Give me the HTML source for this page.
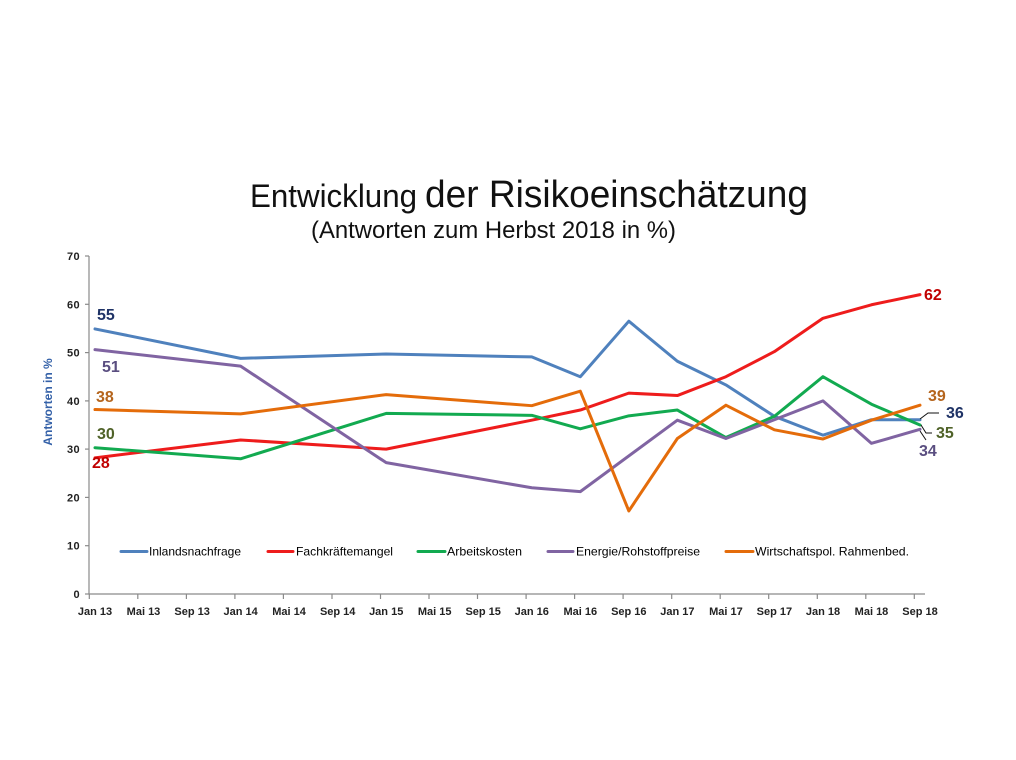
<!DOCTYPE html>
<html>
<head>
<meta charset="utf-8">
<style>
  html, body { margin:0; padding:0; background:#fff; }
  body { width:1016px; height:760px; overflow:hidden; }
  svg { display:block; }
  text { font-family: "Liberation Sans", Arial, sans-serif; }
</style>
</head>
<body>
<svg width="1016" height="760" viewBox="0 0 1016 760" xmlns="http://www.w3.org/2000/svg">
  <rect width="1016" height="760" fill="#fff"/>

  <!-- Title -->
  <text x="250" y="207" font-size="32" fill="#111" textLength="167" lengthAdjust="spacingAndGlyphs">Entwicklung</text>
  <text x="425" y="207" font-size="38" fill="#111" textLength="383" lengthAdjust="spacingAndGlyphs">der Risikoeinschätzung</text>
  <text x="311" y="238" font-size="24" fill="#111" textLength="365" lengthAdjust="spacingAndGlyphs">(Antworten zum Herbst 2018 in %)</text>

  <!-- Axes -->
  <g stroke="#8a8a8a" stroke-width="1.2" fill="none">
    <line x1="89" y1="256" x2="89" y2="594.5"/>
    <line x1="88.5" y1="594" x2="925" y2="594"/>
    <line x1="85" y1="256" x2="89" y2="256"/>
    <line x1="85" y1="304.3" x2="89" y2="304.3"/>
    <line x1="85" y1="352.6" x2="89" y2="352.6"/>
    <line x1="85" y1="400.9" x2="89" y2="400.9"/>
    <line x1="85" y1="449.1" x2="89" y2="449.1"/>
    <line x1="85" y1="497.4" x2="89" y2="497.4"/>
    <line x1="85" y1="545.7" x2="89" y2="545.7"/>
    <line x1="85" y1="594" x2="89" y2="594"/>
    <line x1="89.3" y1="594" x2="89.3" y2="599"/>
    <line x1="137.8" y1="594" x2="137.8" y2="599"/>
    <line x1="186.4" y1="594" x2="186.4" y2="599"/>
    <line x1="234.9" y1="594" x2="234.9" y2="599"/>
    <line x1="283.4" y1="594" x2="283.4" y2="599"/>
    <line x1="332.0" y1="594" x2="332.0" y2="599"/>
    <line x1="380.5" y1="594" x2="380.5" y2="599"/>
    <line x1="429.0" y1="594" x2="429.0" y2="599"/>
    <line x1="477.5" y1="594" x2="477.5" y2="599"/>
    <line x1="526.1" y1="594" x2="526.1" y2="599"/>
    <line x1="574.6" y1="594" x2="574.6" y2="599"/>
    <line x1="623.1" y1="594" x2="623.1" y2="599"/>
    <line x1="671.7" y1="594" x2="671.7" y2="599"/>
    <line x1="720.2" y1="594" x2="720.2" y2="599"/>
    <line x1="768.7" y1="594" x2="768.7" y2="599"/>
    <line x1="817.3" y1="594" x2="817.3" y2="599"/>
    <line x1="865.8" y1="594" x2="865.8" y2="599"/>
    <line x1="914.3" y1="594" x2="914.3" y2="599"/>
  </g>

  <!-- Y tick labels -->
  <g font-size="11" font-weight="bold" fill="#222" text-anchor="end" letter-spacing="0.4">
    <text x="80" y="260">70</text>
    <text x="80" y="308.3">60</text>
    <text x="80" y="356.6">50</text>
    <text x="80" y="404.9">40</text>
    <text x="80" y="453.1">30</text>
    <text x="80" y="501.4">20</text>
    <text x="80" y="549.7">10</text>
    <text x="80" y="598">0</text>
  </g>

  <!-- Y axis title -->
  <text transform="translate(52,402) rotate(-90)" font-size="12" font-weight="bold" fill="#3461A8" text-anchor="middle">Antworten in %</text>

  <!-- X tick labels -->
  <g font-size="11" font-weight="bold" fill="#222" text-anchor="middle">
    <text x="95" y="615">Jan 13</text>
    <text x="143.5" y="615">Mai 13</text>
    <text x="192.1" y="615">Sep 13</text>
    <text x="240.6" y="615">Jan 14</text>
    <text x="289.1" y="615">Mai 14</text>
    <text x="337.7" y="615">Sep 14</text>
    <text x="386.2" y="615">Jan 15</text>
    <text x="434.7" y="615">Mai 15</text>
    <text x="483.2" y="615">Sep 15</text>
    <text x="531.8" y="615">Jan 16</text>
    <text x="580.3" y="615">Mai 16</text>
    <text x="628.8" y="615">Sep 16</text>
    <text x="677.4" y="615">Jan 17</text>
    <text x="725.9" y="615">Mai 17</text>
    <text x="774.4" y="615">Sep 17</text>
    <text x="823.0" y="615">Jan 18</text>
    <text x="871.5" y="615">Mai 18</text>
    <text x="920.0" y="615">Sep 18</text>
  </g>

  <!-- Series -->
  <g transform="translate(95,594) scale(48.53,-4.8286)" fill="none" stroke-width="3" stroke-linejoin="round" stroke-linecap="round">
    <polyline vector-effect="non-scaling-stroke" stroke="#4F81BD"
      points="0,54.9 3,48.8 6,49.7 9,49.1 10,45.0 11,56.5 12,48.2 13,43.3 14,36.8 15,32.9 16,36.1 17,36.1"/>
    <polyline vector-effect="non-scaling-stroke" stroke="#EE1C1C"
      points="0,28.2 3,31.9 6,30.0 9,36.0 10,38.1 11,41.6 12,41.1 13,45.0 14,50.2 15,57.1 16,59.9 17,62.0"/>
    <polyline vector-effect="non-scaling-stroke" stroke="#12AA50"
      points="0,30.3 3,28.0 6,37.4 9,37.0 10,34.2 11,36.9 12,38.1 13,32.4 14,36.8 15,45.0 16,39.3 17,35.0"/>
    <polyline vector-effect="non-scaling-stroke" stroke="#8064A2"
      points="0,50.6 3,47.2 6,27.2 9,22.0 10,21.2 12,36.0 13,32.2 15,40.0 16,31.2 17,34.1"/>
    <polyline vector-effect="non-scaling-stroke" stroke="#E46C0A"
      points="0,38.2 3,37.3 6,41.3 9,39.0 10,42.0 11,17.2 12,32.2 13,39.1 14,34.0 15,32.1 16,36.0 17,39.1"/>
  </g>

  <!-- Leader lines -->
  <g stroke="#111" stroke-width="1" fill="none">
    <polyline points="920,419 928,413 939,413"/>
    <polyline points="921,425 926,433 932,433"/>
    <polyline points="920,431 926,440"/>
  </g>

  <!-- Data labels -->
  <g font-size="16" font-weight="bold">
    <text x="97" y="320" fill="#1F3366">55</text>
    <text x="102" y="372" fill="#5A4E80">51</text>
    <text x="96" y="402" fill="#B5651D">38</text>
    <text x="97" y="439" fill="#4F6228">30</text>
    <text x="92" y="468" fill="#C00000">28</text>
    <text x="924" y="300" fill="#C00000">62</text>
    <text x="928" y="401" fill="#B5651D">39</text>
    <text x="946" y="418" fill="#1F3366">36</text>
    <text x="936" y="438" fill="#4F6228">35</text>
    <text x="919" y="456" fill="#5A4E80">34</text>
  </g>

  <!-- Legend -->
  <g stroke-width="3" stroke-linecap="round">
    <line x1="121" y1="551.5" x2="147" y2="551.5" stroke="#4F81BD"/>
    <line x1="268" y1="551.5" x2="293" y2="551.5" stroke="#EE1C1C"/>
    <line x1="418" y1="551.5" x2="445" y2="551.5" stroke="#12AA50"/>
    <line x1="548" y1="551.5" x2="573" y2="551.5" stroke="#8064A2"/>
    <line x1="726" y1="551.5" x2="753" y2="551.5" stroke="#E46C0A"/>
  </g>
  <g font-size="12" fill="#000">
    <text x="149" y="555.5" textLength="92" lengthAdjust="spacingAndGlyphs">Inlandsnachfrage</text>
    <text x="296" y="555.5" textLength="97" lengthAdjust="spacingAndGlyphs">Fachkräftemangel</text>
    <text x="447" y="555.5" textLength="75" lengthAdjust="spacingAndGlyphs">Arbeitskosten</text>
    <text x="576" y="555.5" textLength="124" lengthAdjust="spacingAndGlyphs">Energie/Rohstoffpreise</text>
    <text x="755" y="555.5" textLength="154" lengthAdjust="spacingAndGlyphs">Wirtschaftspol. Rahmenbed.</text>
  </g>
</svg>
</body>
</html>
